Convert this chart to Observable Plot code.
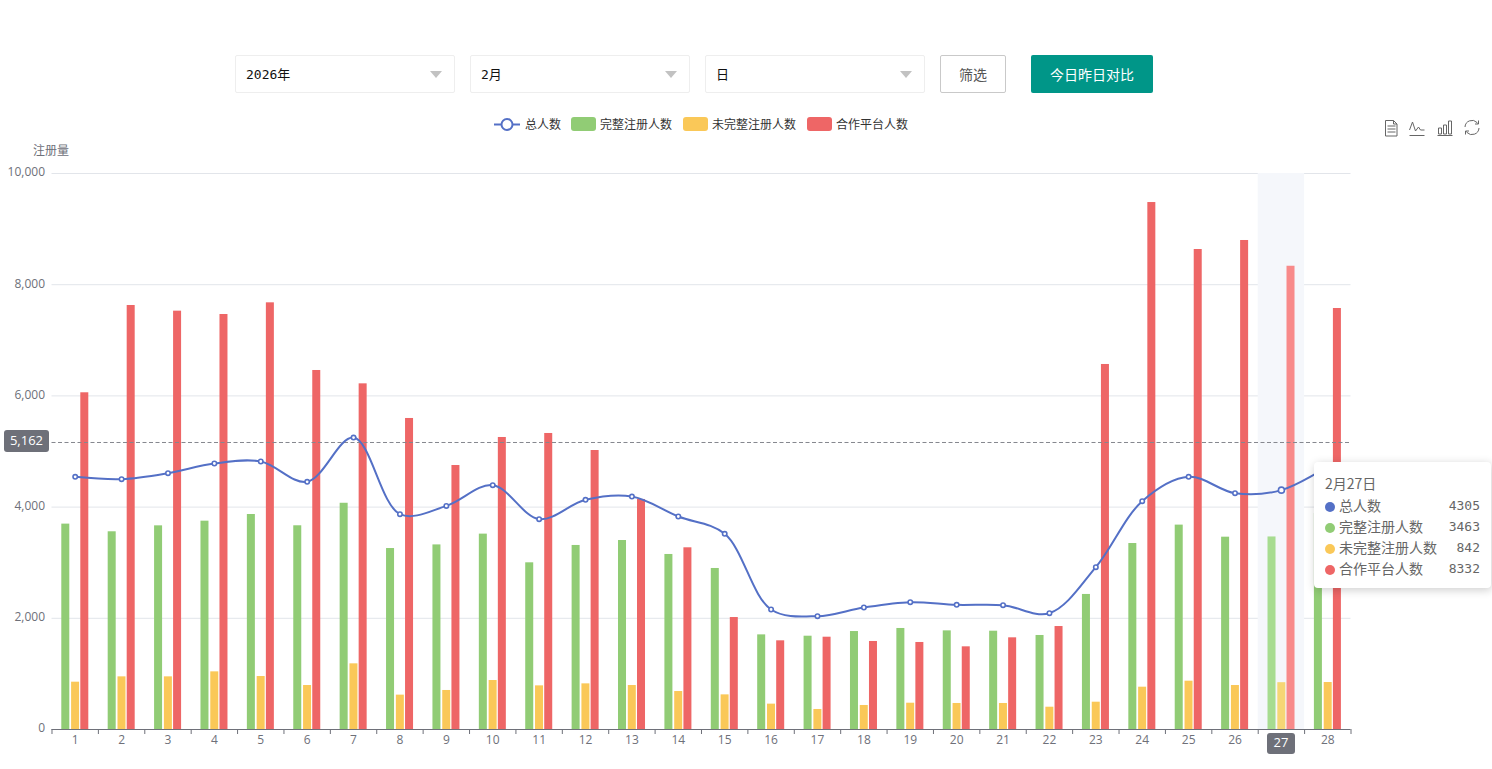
<!DOCTYPE html>
<html lang="zh-CN">
<head>
<meta charset="utf-8">
<script src="https://cdn.jsdelivr.net/npm/d3@7"></script>
<script src="https://cdn.jsdelivr.net/npm/@observablehq/plot@0.6"></script>
<style>
  html,body{margin:0;padding:0;background:#fff;overflow:hidden;width:1492px;height:769px;font-family:"Noto Sans CJK SC","Noto Sans",sans-serif;}
  #page{position:relative;width:1492px;height:769px;}
  #head{position:relative;width:1492px;height:140px;}
  #head>*{position:absolute;box-sizing:border-box;}
  .sel{top:55px;width:220px;height:38px;border:1px solid #eeeeee;border-radius:2px;background:#fff;font:13px/38px "DejaVu Sans Mono","Noto Sans CJK SC",monospace;color:#111;padding-left:10px;}
  .sel i{position:absolute;right:12px;top:15px;width:0;height:0;border-left:6.5px solid transparent;border-right:6.5px solid transparent;border-top:7px solid #c2c2c2;}
  .btn{top:55px;height:38px;text-align:center;line-height:36px;border-radius:2px;font-size:14px;}
  .leg{top:116px;font-size:12px;line-height:16px;color:#333;white-space:nowrap;}
  .swatch{top:117px;width:25px;height:14px;border-radius:3px;}
  #overlay>div{position:absolute;box-sizing:border-box;}
  .pill{background:#6e7079;color:#fff;border-radius:3px;font:13px "Open Sans",sans-serif;text-align:center;}
  #tip{left:1314px;top:322px;width:177px;height:126px;background:#fff;border-radius:4px;box-shadow:1px 2px 10px rgba(0,0,0,.2);color:#666;font-size:14px;}
  #tip .t{position:absolute;left:11px;top:11px;line-height:20px;}
  #tip .r{position:absolute;left:11px;right:11px;height:21px;line-height:21px;white-space:nowrap;}
  #tip .r b{display:inline-block;width:10px;height:10px;border-radius:50%;margin-right:4px;vertical-align:-0.5px;}
  #tip .r span{position:absolute;right:0;top:0;font:13px/21px "DejaVu Sans Mono",monospace;}
</style>
</head>
<body>
<div id="page">
  <div id="head">
    <div class="sel" style="left:235px">2026年<i></i></div>
    <div class="sel" style="left:470px">2月<i></i></div>
    <div class="sel" style="left:705px">日<i></i></div>
    <div class="btn" style="left:940px;width:66px;border:1px solid #c9c9c9;color:#555;background:#fff">筛选</div>
    <div class="btn" style="left:1031px;width:122px;background:#009688;color:#fff;line-height:38px">今日昨日对比</div>

    <svg style="left:494px;top:116px" width="26" height="16"><line x1="0" x2="26" y1="8.5" y2="8.5" stroke="#5470c6" stroke-width="2"/><circle cx="13" cy="8.5" r="5.5" fill="#fff" stroke="#5470c6" stroke-width="2"/></svg>
    <div class="leg" style="left:525px">总人数</div>
    <div class="swatch" style="left:571px;background:#91cc75"></div>
    <div class="leg" style="left:600px">完整注册人数</div>
    <div class="swatch" style="left:683px;background:#fac858"></div>
    <div class="leg" style="left:712px">未完整注册人数</div>
    <div class="swatch" style="left:807px;background:#ee6666"></div>
    <div class="leg" style="left:836px">合作平台人数</div>

    <svg style="left:1380px;top:118px" width="104" height="20" fill="none" stroke="#666" stroke-width="1">
      <path d="M5.5 2.5h8l3.5 3.5v12h-11.5zM13.5 2.5v3.5h3.5M7.5 8h8M7.5 11h8M7.5 14h8"/>
      <path d="M29.5 17.5h15M29.5 12l3-8 3 9 3-4 2 3h4"/>
      <path d="M57.5 17.5h15M58.5 10h3v6h-3zM63.5 7h3v9h-3zM68.5 3h3v13h-3z"/>
      <path d="M85 9a7 7 0 0 1 12-4.5l1.5 1.5M99 10a7 7 0 0 1-12 4.5l-1.5-1.5M98.5 2.5v3.5h-3.5M85.5 16.5v-3.5h3.5"/>
    </svg>
  </div>
  <div id="chart"></div>
  <div id="overlay" style="position:absolute;left:0;top:140px;width:1492px;height:629px"></div>
</div>
<script>
const days = d3.range(1, 29);
const total = [4545,4503,4610,4784,4820,4455,5250,3873,4022,4395,3783,4131,4190,3831,3519,2158,2038,2194,2290,2242,2236,2092,2920,4106,4545,4250,4305,4730];
const complete = [3694,3556,3663,3747,3867,3664,4069,3255,3320,3514,2998,3310,3399,3148,2896,1702,1678,1762,1817,1774,1768,1691,2429,3345,3676,3459,3463,3885];
const partial = [851,947,947,1037,953,791,1181,618,702,881,785,821,791,683,623,456,360,432,473,468,468,401,491,761,869,791,842,845];
const partner = [6056,7626,7524,7464,7674,6457,6217,5594,4748,5252,5324,5018,4137,3268,2014,1595,1660,1583,1565,1487,1649,1852,6565,9478,8633,8795,8332,7572];
const yTicks = [0,2000,4000,6000,8000,10000];
const markValue = 5162;
const activeDay = 27;
const seriesNames = ["总人数","完整注册人数","未完整注册人数","合作平台人数"];
const seriesColors = ["#5470c6","#91cc75","#fac858","#ee6666"];

const rows = (vals) => days.map((d, i) => ({day: d, v: vals[i]}));
const barW = 8;
const bandInset = (46.39 - barW) / 2;
function bars(vals, color, hi, dx) {
  const data = rows(vals);
  return [
    Plot.barY(data.filter(d => d.day !== activeDay), {x: "day", y: "v", fill: color, insetLeft: bandInset, insetRight: bandInset, dx}),
    Plot.barY(data.filter(d => d.day === activeDay), {x: "day", y: "v", fill: hi, insetLeft: bandInset, insetRight: bandInset, dx})
  ];
}
const totalRows = rows(total);

const plot = Plot.plot({
  width: 1492,
  height: 629,
  marginTop: 33,
  marginBottom: 40,
  marginLeft: 51.5,
  marginRight: 141.5,
  style: {fontFamily: '"Open Sans","Noto Sans CJK SC",sans-serif', fontSize: "12px", background: "transparent", overflow: "visible"},
  x: {type: "band", domain: days, padding: 0, round: false, label: null},
  y: {domain: [0, 10000], label: null},
  marks: [
    Plot.ruleY(yTicks.slice(1), {stroke: "#e2e5ea", strokeWidth: 1}),
    Plot.barY([activeDay], {x: d => d, y1: 0, y2: 10000, fill: "#f5f7fb"}),
    Plot.ruleY([0], {stroke: "#6e7079", strokeWidth: 1}),
    Plot.axisX(days, {tickSize: 5, dx: -23.2, stroke: "#6e7079", tickFormat: () => ""}),
    Plot.axisX([28], {tickSize: 5, dx: 23.2, stroke: "#6e7079", tickFormat: () => ""}),
    Plot.axisX(days.filter(d => d !== activeDay), {tickSize: 0, tickPadding: 6, fill: "#6e7079", fontSize: 12, label: null}),
    Plot.axisY(yTicks, {tickSize: 0, tickPadding: 7, dy: -1, fill: "#6e7079", fontSize: 12, label: null, tickFormat: d3.format(",")}),
    Plot.text(["注册量"], {frameAnchor: "top-left", dx: -19, dy: -27, fill: "#6e7079", fontSize: 12, textAnchor: "start", fontFamily: '"Noto Sans CJK SC",sans-serif'}),
    ...bars(complete, seriesColors[1], "#a7dc90", -9.4),
    ...bars(partial, seriesColors[2], "#f6d675", 0.4),
    ...bars(partner, seriesColors[3], "#f88a8a", 9.6),
    Plot.ruleY([markValue], {stroke: "#85878e", strokeWidth: 1, strokeDasharray: "4,2.5"}),
    Plot.line(totalRows, {x: "day", y: "v", stroke: seriesColors[0], strokeWidth: 2, curve: "catmull-rom"}),
    Plot.dot(totalRows.filter(d => d.day !== activeDay), {x: "day", y: "v", r: 2.2, stroke: seriesColors[0], fill: "#fff", strokeWidth: 1.6}),
    Plot.dot(totalRows.filter(d => d.day === activeDay), {x: "day", y: "v", r: 3, stroke: seriesColors[0], fill: "#fff", strokeWidth: 1.6})
  ]
});
document.getElementById("chart").appendChild(plot);

// overlays positioned through the chart's own scales
const sx = plot.scale("x"), sy = plot.scale("y");
const overlay = document.getElementById("overlay");
const mk = (cls, css, txt) => { const e = document.createElement("div"); e.className = cls; e.style.cssText = css; e.textContent = txt; overlay.appendChild(e); return e; };
mk("pill", `left:4px;width:45px;height:22px;line-height:20px;top:${sy.apply(markValue) - 11.5}px`, d3.format(",")(markValue));
const cx = sx.apply(activeDay) + sx.bandwidth / 2;
mk("pill", `left:${cx - 14}px;width:28px;height:21px;line-height:19px;top:${sy.apply(0) + 4}px`, String(activeDay));

const tip = document.createElement("div");
tip.id = "tip";
overlay.appendChild(tip);
const i = days.indexOf(activeDay);
const vals = [total[i], complete[i], partial[i], partner[i]];
const t = document.createElement("div"); t.className = "t"; t.textContent = `2月${activeDay}日`; tip.appendChild(t);
seriesNames.forEach((n, k) => {
  const r = document.createElement("div"); r.className = "r"; r.style.top = (33 + k * 21) + "px";
  const b = document.createElement("b"); b.style.background = seriesColors[k]; r.appendChild(b);
  r.appendChild(document.createTextNode(n));
  const s = document.createElement("span"); s.textContent = vals[k]; r.appendChild(s);
  tip.appendChild(r);
});
</script>
</body>
</html>
